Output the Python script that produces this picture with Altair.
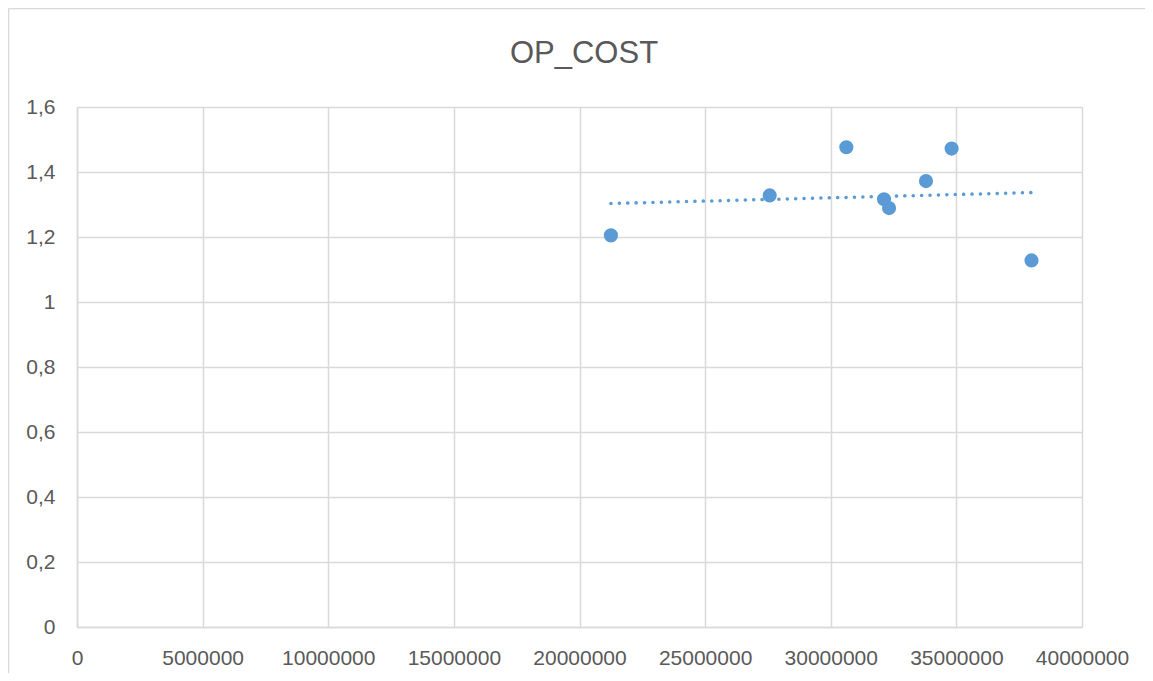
import altair as alt
import pandas as pd

# Data
x_values = [21250000, 27570000, 30620000, 32120000, 32320000, 33790000, 34810000, 37990000]
y_values = [1.205, 1.328, 1.476, 1.316, 1.289, 1.372, 1.472, 1.128]
x_ticks = [0, 5000000, 10000000, 15000000, 20000000, 25000000, 30000000, 35000000, 40000000]
y_ticks = [0, 0.2, 0.4, 0.6, 0.8, 1.0, 1.2, 1.4, 1.6]
title_text = "OP_COST"

df = pd.DataFrame({"x": x_values, "y": y_values})

BLUE = "#5b9bd5"
GRID = "#d9d9d9"
TEXT = "#595959"
FONT = "Liberation Sans"

x_enc = alt.X(
    "x:Q",
    scale=alt.Scale(domain=[0, 40000000], nice=False, zero=True),
    axis=alt.Axis(
        values=x_ticks, format="d", title=None, grid=True, gridColor=GRID,
        gridWidth=1.5, domainColor=GRID, domainWidth=1.5, ticks=False,
        labelPadding=20, labelFontSize=21, labelColor=TEXT, labelFont=FONT,
        labelOverlap=False, labelFlush=False,
    ),
)
y_enc = alt.Y(
    "y:Q",
    scale=alt.Scale(domain=[0, 1.6], nice=False),
    axis=alt.Axis(
        values=y_ticks, title=None, grid=True, gridColor=GRID, gridWidth=1.5,
        domainColor=GRID, domainWidth=1.5, ticks=False, labelPadding=22,
        labelFontSize=21, labelColor=TEXT, labelFont=FONT, labelOverlap=False,
        labelFlush=False,
        labelExpr="replace(format(datum.value, '.1~f'), '.', ',')",
    ),
)

base_one = alt.Chart(df).transform_aggregate(n="count()")

# chart-area frame (left and top edges; the rest falls outside the picture)
frame_top = base_one.mark_rule(color=GRID, strokeWidth=1.5).encode(
    x=alt.value(-68.5), x2=alt.value(1100), y=alt.value(-98.5)
)
frame_left = base_one.mark_rule(color=GRID, strokeWidth=1.5).encode(
    x=alt.value(-68.5), y=alt.value(-98.5), y2=alt.value(600)
)

title = base_one.mark_text(
    fontSize=31, font=FONT, color=TEXT, align="center", baseline="middle"
).encode(x=alt.value(507), y=alt.value(-53), text=alt.value(title_text))

points = alt.Chart(df).mark_circle(size=200, color=BLUE, opacity=1).encode(
    x=x_enc, y=y_enc
)

trend = alt.Chart(df).transform_regression("x", "y").mark_line(
    color=BLUE, strokeWidth=3.5, strokeDash=[0.1, 8.3], strokeCap="round"
).encode(x="x:Q", y="y:Q")

chart = alt.layer(frame_top, frame_left, title, points, trend).properties(
    width=1005,
    height=520,
    autosize=alt.AutoSizeParams(type="none"),
    padding={"left": 69, "top": 99, "right": 63, "bottom": 46},
).configure_view(stroke=None).configure(background="white")

chart.save("out.html", embed_options={"renderer": "svg", "actions": False})
